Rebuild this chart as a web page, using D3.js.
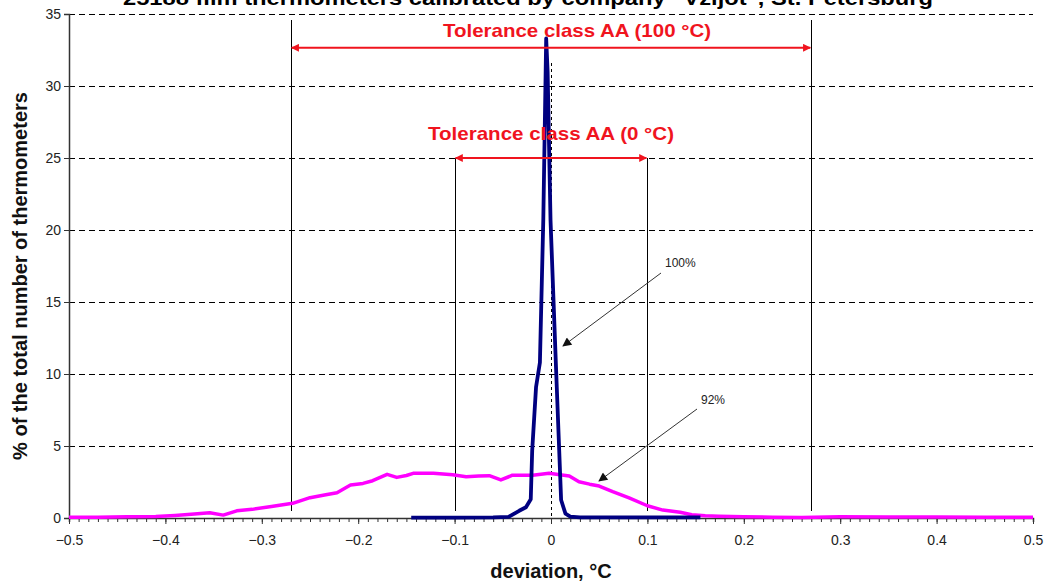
<!DOCTYPE html>
<html>
<head>
<meta charset="utf-8">
<script src="https://cdn.jsdelivr.net/npm/d3@7"></script>
<style>
  body { margin: 0; background: #fff; }
  svg { font-family: "Liberation Sans", Arial, sans-serif; }
</style>
</head>
<body>
<svg id="chart" width="1061" height="587"></svg>
<script>
// deviation (°C) vs % of thermometers
var pinkX = [-0.5, -0.47, -0.44, -0.41, -0.39, -0.37, -0.354, -0.34, -0.326, -0.31, -0.29, -0.268, -0.25, -0.235,
  -0.222, -0.208, -0.195, -0.185, -0.170, -0.160, -0.150, -0.143, -0.122, -0.102, -0.088, -0.075, -0.064,
  -0.052, -0.040, -0.019, -0.002, 0.019, 0.029, 0.040, 0.050, 0.064, 0.081, 0.10, 0.116, 0.134, 0.146,
  0.160, 0.174, 0.2, 0.23, 0.26, 0.3, 0.35, 0.4, 0.45, 0.5];
var pinkY = [0.05, 0.06, 0.08, 0.1, 0.18, 0.28, 0.37, 0.2, 0.5, 0.6, 0.8, 1.02, 1.41, 1.6,
  1.76, 2.29, 2.4, 2.59, 3.03, 2.82, 2.95, 3.1, 3.1, 3.0, 2.87, 2.92, 2.94,
  2.64, 2.97, 2.97, 3.1, 2.92, 2.52, 2.35, 2.22, 1.83, 1.39, 0.85, 0.55, 0.4, 0.22,
  0.15, 0.12, 0.08, 0.06, 0.04, 0.08, 0.07, 0.07, 0.06, 0.06];

var blueX = [-0.145, -0.10, -0.06, -0.044, -0.033, -0.026, -0.021, -0.0195, -0.0155, -0.0115, -0.008,
  -0.005, -0.0035, -0.0005, 0.005, 0.0105, 0.015, 0.02, 0.03, 0.08, 0.155];
var blueY = [0.03, 0.03, 0.04, 0.08, 0.5, 0.75, 1.3, 4.7, 9.1, 10.8, 20.7,
  33.3, 31, 20.7, 10.8, 1.25, 0.3, 0.1, 0.05, 0.05, 0.05];

var xTicks = [-0.5, -0.4, -0.3, -0.2, -0.1, 0, 0.1, 0.2, 0.3, 0.4, 0.5];
var yTicks = [0, 5, 10, 15, 20, 25, 30, 35];

var tol100 = [-0.27, 0.27];
var tol0 = [-0.1, 0.1];

var svg = d3.select('#chart');
var margin = { top: 14, right: 28, bottom: 69, left: 69 };
var W = 1061, H = 587;

var x = d3.scaleLinear().domain([-0.5, 0.5]).range([margin.left, W - margin.right]);
var y = d3.scaleLinear().domain([0, 35]).range([H - margin.bottom, margin.top]);

var defs = svg.append('defs');
defs.append('marker').attr('id', 'redHead')
  .attr('viewBox', '0 0 10 10').attr('refX', 9).attr('refY', 5)
  .attr('markerWidth', 10).attr('markerHeight', 8).attr('markerUnits', 'userSpaceOnUse')
  .attr('orient', 'auto-start-reverse')
  .append('path').attr('d', 'M0,0 L10,5 L0,10 z').attr('fill', '#f0141e');
defs.append('marker').attr('id', 'blackHead')
  .attr('viewBox', '0 0 10 10').attr('refX', 9).attr('refY', 5)
  .attr('markerWidth', 12).attr('markerHeight', 9).attr('markerUnits', 'userSpaceOnUse')
  .attr('orient', 'auto')
  .append('path').attr('d', 'M0,0 L10,5 L0,10 z').attr('fill', '#111');

// title (cut off at top like in the source)
svg.append('text')
  .attr('x', 528).attr('y', 5)
  .attr('text-anchor', 'middle')
  .attr('font-size', 21).attr('font-weight', 'bold')
  .attr('textLength', 810).attr('lengthAdjust', 'spacingAndGlyphs')
  .text('25188 film thermometers calibrated by company "Vzljot", St. Petersburg');

// grid
svg.append('g').attr('shape-rendering', 'crispEdges')
  .selectAll('line').data(yTicks.filter(function(d){ return d > 0; }))
  .enter().append('line')
  .attr('x1', x(-0.5)).attr('x2', x(0.5))
  .attr('y1', function(d){ return y(d) + 0.5; }).attr('y2', function(d){ return y(d) + 0.5; })
  .attr('stroke', '#000').attr('stroke-width', 1).attr('stroke-dasharray', '6,4');

// tolerance verticals
var vlines = svg.append('g').attr('shape-rendering', 'crispEdges');
vlines.selectAll('line.t100').data(tol100).enter().append('line')
  .attr('x1', function(d){ return Math.round(x(d)) + 0.5; }).attr('x2', function(d){ return Math.round(x(d)) + 0.5; })
  .attr('y1', y(34.6)).attr('y2', y(0.5))
  .attr('stroke', '#000').attr('stroke-width', 1);
vlines.selectAll('line.t0').data(tol0).enter().append('line')
  .attr('x1', function(d){ return Math.round(x(d)) + 0.5; }).attr('x2', function(d){ return Math.round(x(d)) + 0.5; })
  .attr('y1', y(25)).attr('y2', y(0.5))
  .attr('stroke', '#000').attr('stroke-width', 1);
vlines.append('line')
  .attr('x1', x(0) + 0.5).attr('x2', x(0) + 0.5).attr('y1', y(31.6)).attr('y2', y(0))
  .attr('stroke', '#000').attr('stroke-width', 1).attr('stroke-dasharray', '3,3');

// axes
var gx = svg.append('g').attr('transform', 'translate(0,' + y(0) + ')');
gx.call(d3.axisBottom(x).tickValues(d3.range(-50, 51).map(function(d){ return d / 100; }))
  .tickSize(4).tickFormat(''));
gx.call(function(g){ g.selectAll('.tick line').attr('stroke', '#333'); });
var gxMajor = svg.append('g').attr('transform', 'translate(0,' + y(0) + ')');
gxMajor.call(d3.axisBottom(x).tickValues(xTicks).tickSize(6).tickPadding(11)
  .tickFormat(function(d){ return d === 0 ? '0' : d3.format('.1f')(d); }));
gxMajor.select('.domain').remove();
svg.selectAll('.domain').attr('stroke', '#333').attr('stroke-width', 1.5);
gxMajor.selectAll('text').attr('font-size', 14).attr('fill', '#222')
  .attr('font-family', '"Liberation Sans", Arial, sans-serif');
gxMajor.selectAll('.tick line').attr('stroke', '#333');

var gy = svg.append('g').attr('transform', 'translate(' + x(-0.5) + ',0)');
gy.call(d3.axisLeft(y).tickValues(yTicks).tickSize(5).tickPadding(3));
gy.select('.domain').attr('stroke', '#333').attr('stroke-width', 1.5);
gy.selectAll('.tick line').attr('stroke', '#333');
gy.selectAll('text').attr('font-size', 14).attr('fill', '#222')
  .attr('font-family', '"Liberation Sans", Arial, sans-serif');

// axis titles
svg.append('text').attr('x', x(0)).attr('y', 578)
  .attr('text-anchor', 'middle').attr('font-size', 20).attr('font-weight', 'bold').attr('fill', '#111')
  .text('deviation, °C');
svg.append('text').attr('transform', 'translate(27,' + 276 + ') rotate(-90)')
  .attr('text-anchor', 'middle').attr('font-size', 20).attr('font-weight', 'bold').attr('fill', '#111')
  .text('% of the total number of thermometers');

// series
var line = d3.line().x(function(d){ return x(d[0]); }).y(function(d){ return y(d[1]); });
svg.append('path').datum(d3.zip(pinkX, pinkY))
  .attr('d', line).attr('fill', 'none').attr('stroke', '#ff00ff')
  .attr('stroke-width', 3.5).attr('stroke-linejoin', 'round');
svg.append('path').datum(d3.zip(blueX, blueY))
  .attr('d', line).attr('fill', 'none').attr('stroke', '#000080')
  .attr('stroke-width', 3.8).attr('stroke-linejoin', 'round');

// tolerance arrows + labels
svg.append('line')
  .attr('x1', x(tol100[0]) + 1).attr('x2', x(tol100[1]) - 1)
  .attr('y1', y(32.65)).attr('y2', y(32.65))
  .attr('stroke', '#f0141e').attr('stroke-width', 2)
  .attr('marker-start', 'url(#redHead)').attr('marker-end', 'url(#redHead)');
svg.append('text').attr('x', 577).attr('y', y(32.65) - 11)
  .attr('text-anchor', 'middle').attr('font-size', 19).attr('font-weight', 'bold').attr('fill', '#f0141e')
  .attr('textLength', 268).attr('lengthAdjust', 'spacingAndGlyphs')
  .text('Tolerance class AA (100 °C)');

svg.append('line')
  .attr('x1', x(tol0[0]) + 1).attr('x2', x(tol0[1]) - 1)
  .attr('y1', y(25)).attr('y2', y(25))
  .attr('stroke', '#f0141e').attr('stroke-width', 2)
  .attr('marker-start', 'url(#redHead)').attr('marker-end', 'url(#redHead)');
svg.append('text').attr('x', 551).attr('y', y(25) - 18)
  .attr('text-anchor', 'middle').attr('font-size', 19).attr('font-weight', 'bold').attr('fill', '#f0141e')
  .attr('textLength', 246).attr('lengthAdjust', 'spacingAndGlyphs')
  .text('Tolerance class AA (0 °C)');

// percentage callouts
var callouts = [
  { label: '100%', tx: 665, ty: 267, from: [661, 273], to: [563, 346] },
  { label: '92%', tx: 701, ty: 404, from: [697, 409], to: [599, 481] }
];
callouts.forEach(function(c){
  svg.append('line')
    .attr('x1', c.from[0]).attr('y1', c.from[1]).attr('x2', c.to[0]).attr('y2', c.to[1])
    .attr('stroke', '#333').attr('stroke-width', 1)
    .attr('marker-end', 'url(#blackHead)');
  svg.append('text').attr('x', c.tx).attr('y', c.ty)
    .attr('font-size', 12).attr('fill', '#222').text(c.label);
});
</script>
</body>
</html>
